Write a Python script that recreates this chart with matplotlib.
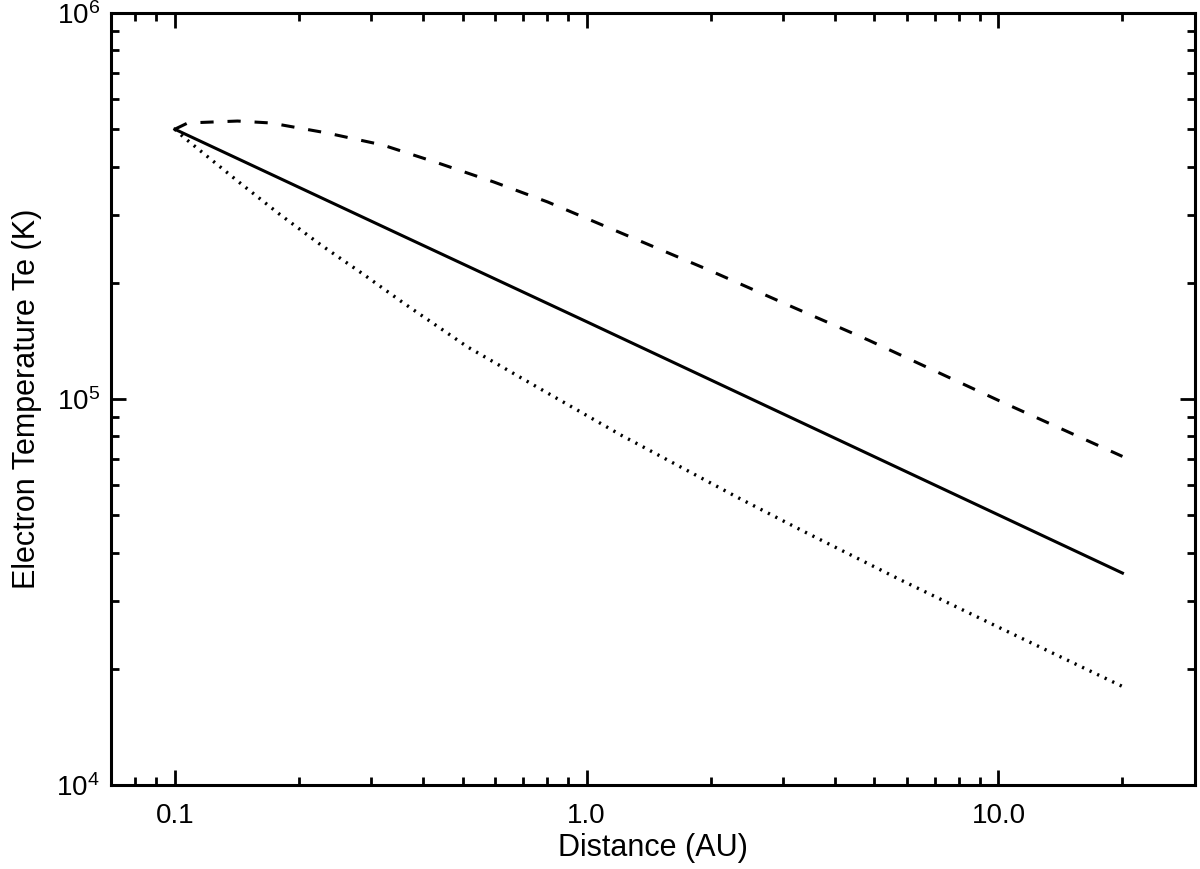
import matplotlib
matplotlib.use('Agg')
from matplotlib import pyplot as plt
from matplotlib.ticker import LogLocator, NullFormatter

plt.rcParams['font.family'] = ['Liberation Sans', 'DejaVu Sans']
plt.rcParams['mathtext.default'] = 'regular'
plt.rcParams['lines.scale_dashes'] = False

# distance (AU) and electron temperature (K)
r_solid = [0.1, 0.354, 1.0, 3.31, 20.0]
te_solid = [5.0e5, 2.66e5, 1.586e5, 8.71e4, 3.54e4]

r_dash = [0.1, 0.1075, 0.142, 0.171, 0.234, 0.320, 0.435, 0.595, 0.804,
          1.094, 1.977, 3.09, 4.84, 10.2, 20.0]
te_dash = [5.0e5, 5.19e5, 5.25e5, 5.19e5, 4.89e5, 4.55e5, 4.09e5, 3.65e5,
           3.24e5, 2.82e5, 2.16e5, 1.75e5, 1.42e5, 9.82e4, 7.1e4]

r_dot = [0.1, 0.105, 0.143, 0.179, 0.226, 0.286, 0.36, 0.514, 0.74, 1.21,
         2.34, 3.31, 5.78, 10.1, 20.0]
te_dot = [5.0e5, 4.77e5, 3.65e5, 3.02e5, 2.51e5, 2.11e5, 1.77e5, 1.364e5,
          1.09e5, 8.07e4, 5.54e4, 4.58e4, 3.40e4, 2.55e4, 1.80e4]

x_ticks = [0.1, 1.0, 10.0]
x_ticklabels = ['0.1', '1.0', '10.0']
y_ticks = [1e4, 1e5, 1e6]
y_ticklabels = ['$10^4$', '$10^5$', '$10^6$']


def make_plot():
    fig = plt.figure(figsize=(12, 8.69), dpi=100)
    ax = fig.add_axes([0.0925, 0.0967, 0.9033, 0.8883])

    ax.plot(r_solid, te_solid, color='black', lw=2.2)
    ax.plot(r_dash, te_dash, color='black', lw=2.2, dashes=(9.5, 10))
    ax.plot(r_dot, te_dot, color='black', lw=2.4, dashes=(1.6, 4.4))

    ax.set_xscale('log')
    ax.set_yscale('log')
    ax.set_xlim(0.07, 30)
    ax.set_ylim(1e4, 1e6)

    ax.set_xticks(x_ticks)
    ax.set_xticklabels(x_ticklabels)
    ax.set_yticks(y_ticks)
    ax.set_yticklabels(y_ticklabels)
    ax.xaxis.set_minor_locator(LogLocator(base=10, subs=range(2, 10)))
    ax.yaxis.set_minor_locator(LogLocator(base=10, subs=range(2, 10)))
    ax.xaxis.set_minor_formatter(NullFormatter())
    ax.yaxis.set_minor_formatter(NullFormatter())

    ax.tick_params(which='both', direction='in', top=True, right=True,
                   width=2.0, labelsize=20)
    ax.tick_params(which='major', length=11)
    ax.tick_params(which='minor', length=5.8)
    ax.tick_params(axis='x', which='major', pad=13)
    ax.tick_params(axis='y', which='major', pad=8)
    for s in ax.spines.values():
        s.set_linewidth(2.2)

    ax.set_xlabel('Distance (AU)', fontsize=22, labelpad=3)
    ax.set_ylabel('Electron Temperature Te (K)', fontsize=22, labelpad=10)

    fig.savefig('out.png', dpi=100)


if __name__ == '__main__':
    make_plot()
